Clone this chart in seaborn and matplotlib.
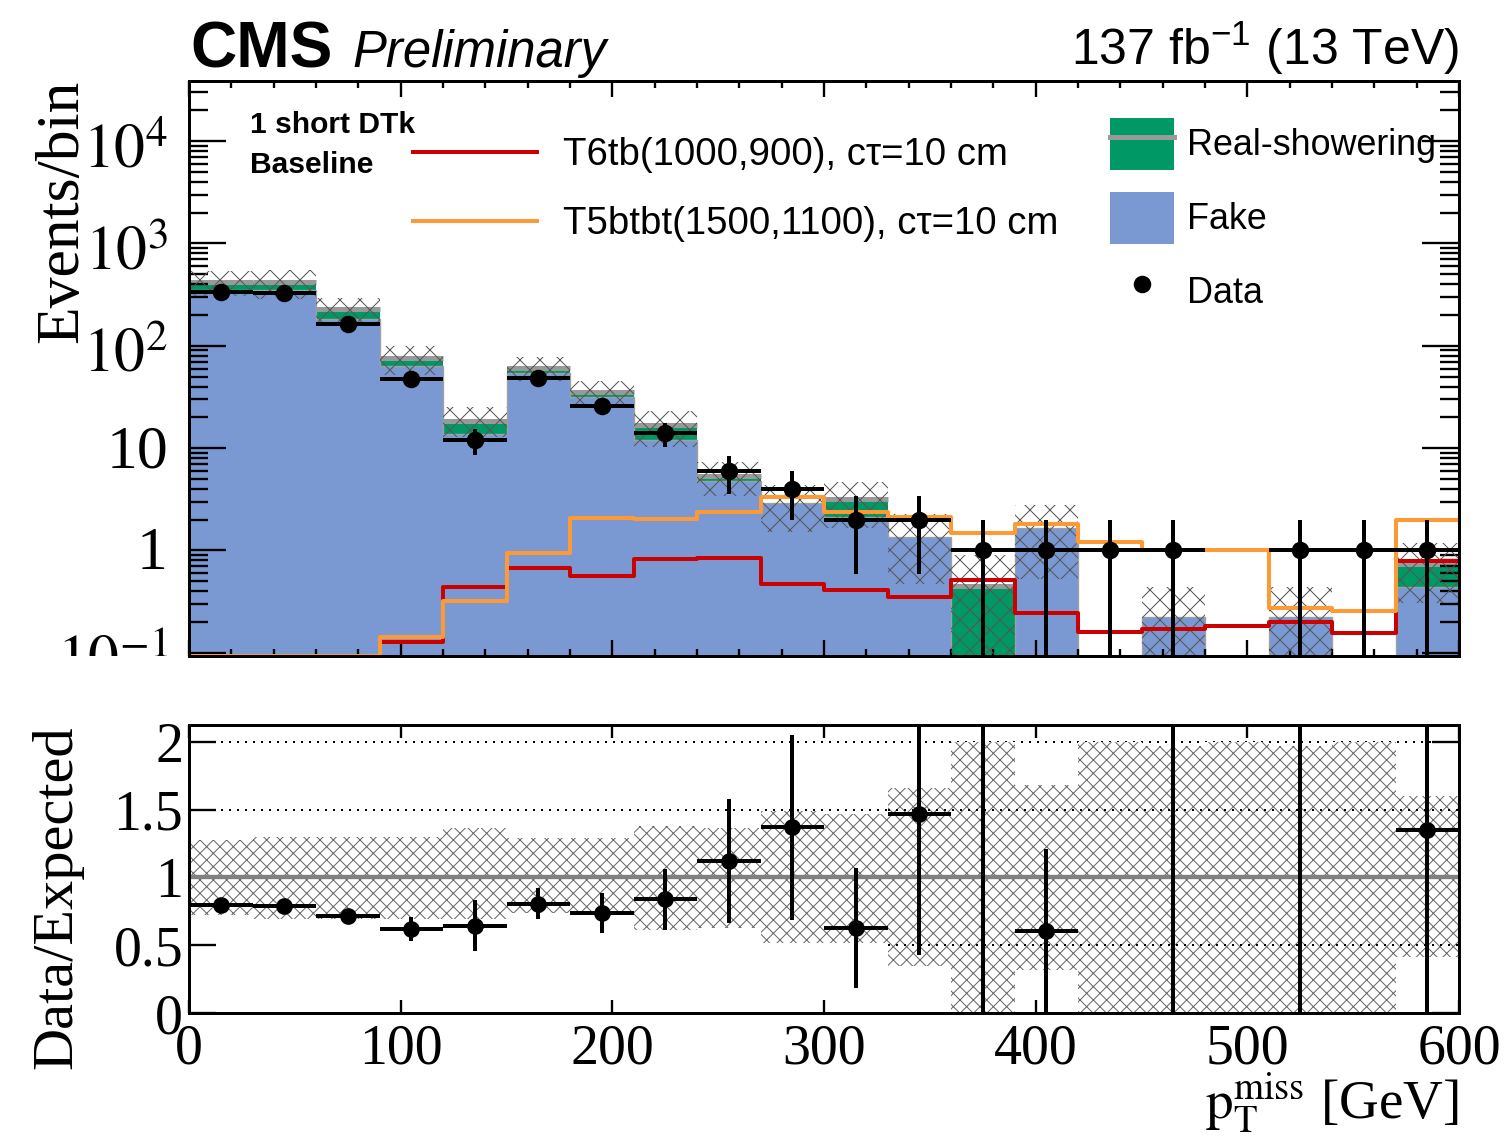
import numpy as np
import pandas as pd
import matplotlib
matplotlib.use("Agg")
import matplotlib.pyplot as plt
import seaborn as sns
from matplotlib.lines import Line2D
from matplotlib.patches import Patch
from matplotlib.legend_handler import HandlerTuple
from matplotlib.transforms import Bbox, TransformedBbox, blended_transform_factory, ScaledTranslation
from matplotlib.ticker import FixedLocator, NullFormatter, MultipleLocator, LogLocator, FixedFormatter
from matplotlib.font_manager import FontProperties

# ---------------- data ----------------
bin_edges = [0, 30, 60, 90, 120, 150, 180, 210, 240, 270, 300,
             330, 360, 390, 420, 450, 480, 510, 540, 570, 600]
data_counts = [335, 330, 162, 47, 12, 49, 26, 14, 6, 4,
               2, 2, 1, 1, 1, 1, 0, 1, 1, 1]
fake_bkg = [350, 348, 181, 63, 13.9, 53.7, 31.3, 12.0, 4.75, 2.92,
            2.13, 1.36, 0, 1.65, 0, 0.224, 0, 0.224, 0, 0.44]
real_bkg = [69, 71, 46, 13, 4.7, 7.0, 3.9, 4.7, 0.6, 0,
            1.06, 0, 0.45, 0, 0, 0, 0, 0, 0, 0.30]
sig_t6tb = [0, 0, 0, 0.128, 0.435, 0.667, 0.565, 0.83, 0.85, 0.465,
            0.41, 0.352, 0.52, 0.245, 0.158, 0.169, 0.183, 0.20, 0.155, 0.786]
sig_t5btbt = [0, 0, 0, 0.143, 0.32, 0.935, 2.06, 2.03, 2.38, 3.3,
              2.38, 2.13, 1.47, 1.8, 1.2, 1.02, 1.0, 0.275, 0.257, 1.98]
# relative uncertainty band on the expectation (ratio panel)
unc_hi = [1.28, 1.30, 1.30, 1.30, 1.365, 1.29, 1.29, 1.38, 1.365, 1.49,
          1.47, 1.66, 2.0, 1.685, 2.0, 1.97, 2.0, 1.97, 2.0, 1.60]
unc_lo = [0.725, 0.69, 0.69, 0.69, 0.69, 0.74, 0.725, 0.615, 0.63, 0.517,
          0.52, 0.345, 0.0, 0.32, 0.0, 0.0, 0.0, 0.0, 0.0, 0.41]
y_major = [0.1, 1, 10, 100, 1000, 10000]
y_major_labels = [r"$10^{-1}$", "1", "10", r"$10^{2}$", r"$10^{3}$", r"$10^{4}$"]
r_ticks = [0, 0.5, 1, 1.5, 2]
r_tick_labels = ["0", "0.5", "1", "1.5", "2"]
x_ticks = [0, 100, 200, 300, 400, 500, 600]

label_sig1 = "T6tb(1000,900), cτ=10 cm"
label_sig2 = "T5btbt(1500,1100), cτ=10 cm"

# ---------------- style ----------------
BLUE = "#7a99d2"
GREEN = "#009966"
RED = "#cc0000"
ORANGE = "#ff9933"
GRAY = "#999999"
SANS = ["Liberation Sans", "DejaVu Sans"]

plt.rcParams["font.family"] = ["Liberation Serif", "DejaVu Serif"]
plt.rcParams["mathtext.fontset"] = "custom"
plt.rcParams["mathtext.rm"] = "Liberation Sans"
plt.rcParams["mathtext.it"] = "Liberation Sans:italic"
plt.rcParams["mathtext.bf"] = "Liberation Sans:bold"
plt.rcParams["hatch.linewidth"] = 0.6
plt.rcParams["axes.linewidth"] = 1.8
plt.rcParams["axes.edgecolor"] = "black"

W, H, DPI = 1507, 1141, 120
fig = plt.figure(figsize=(W / DPI, H / DPI), dpi=DPI)


def fx(px):
    return px / W


def fy(py):
    return 1 - py / H


ax = fig.add_axes([fx(189), fy(656), fx(1459) - fx(189), fy(80.7) - fy(656)])
rax = fig.add_axes([fx(189), fy(1013), fx(1459) - fx(189), fy(725) - fy(1013)])

edges = np.array(bin_edges, dtype=float)
centers = 0.5 * (edges[:-1] + edges[1:])
half_w = 0.5 * (edges[1:] - edges[:-1])
fake = np.array(fake_bkg, dtype=float)
real = np.array(real_bkg, dtype=float)
total = fake + real
dat = np.array(data_counts, dtype=float)
hi = np.array(unc_hi)
lo = np.array(unc_lo)
Y_MIN, Y_MAX = 0.093, 3.9e4

df = pd.DataFrame({
    "pt": centers,
    "total": total,
    "fake": fake,
    "t6tb": np.maximum(np.array(sig_t6tb), Y_MIN),
    "t5btbt": np.maximum(np.array(sig_t5btbt), Y_MIN),
})
bins_list = list(bin_edges)

# ---------------- upper panel ----------------
sns.histplot(data=df, x="pt", weights="total", bins=bins_list, element="step", fill=True,
             color=GREEN, alpha=1, linewidth=0, ax=ax, zorder=1)
sns.histplot(data=df, x="pt", weights="fake", bins=bins_list, element="step", fill=True,
             color=BLUE, alpha=1, linewidth=0.8, edgecolor="#a0a0a0", ax=ax, zorder=1.1)
m_real = real > 0
ax.hlines(total[m_real], edges[:-1][m_real], edges[1:][m_real],
          colors=GRAY, linewidth=3, zorder=1.5)

m_tot = total > 0
band_top = total * hi
band_bot = np.maximum(total * lo, Y_MIN * 0.5)
ax.bar(centers[m_tot], (band_top - band_bot)[m_tot], bottom=band_bot[m_tot],
       width=2 * half_w[m_tot], fill=False, hatch="xx", edgecolor="#555555",
       linewidth=0, zorder=2)

sns.histplot(data=df, x="pt", weights="t6tb", bins=bins_list,
             element="step", fill=False, color=RED, linewidth=2.4, ax=ax, zorder=3)
sns.histplot(data=df, x="pt", weights="t5btbt", bins=bins_list,
             element="step", fill=False, color=ORANGE, linewidth=2.4, ax=ax, zorder=3.1)

m_dat = dat > 0
ax.errorbar(centers[m_dat], dat[m_dat], xerr=half_w[m_dat], yerr=np.sqrt(dat[m_dat]),
            fmt="o", color="black", ms=9.5, elinewidth=2.4, capsize=0, zorder=4)

ax.set_yscale("log")
ax.set_xlim(0, 600)
ax.set_ylim(Y_MIN, Y_MAX)
ax.set_xlabel("")
ax.set_ylabel("")
ax.yaxis.set_major_locator(FixedLocator(y_major))
ax.yaxis.set_minor_locator(LogLocator(base=10, subs=np.arange(2, 10), numticks=50))
ax.yaxis.set_major_formatter(NullFormatter())
ax.yaxis.set_minor_formatter(NullFormatter())
ax.xaxis.set_major_locator(FixedLocator(x_ticks))
ax.xaxis.set_minor_locator(MultipleLocator(20))
ax.tick_params(axis="both", which="both", direction="in", top=True, right=True,
               labelbottom=False, labelleft=False, width=1.4, color="black")
ax.tick_params(axis="x", which="major", length=9.6)
ax.tick_params(axis="x", which="minor", length=4.2)
ax.tick_params(axis="y", which="major", length=22)
ax.tick_params(axis="y", which="minor", length=11.4)
for s in ax.spines.values():
    s.set_linewidth(1.8)
    s.set_zorder(5)

# upper y tick labels (the lowest one is cut by the pad edge, as in the reference)
ylab_tr = blended_transform_factory(fig.transFigure, ax.transData)
clip = TransformedBbox(Bbox([[0, fy(656)], [1, 1]]), fig.transFigure)
for v, s in zip(y_major, y_major_labels):
    drop = 26 if s.startswith("$") else 19
    tr = ylab_tr + ScaledTranslation(0, -drop / DPI, fig.dpi_scale_trans)
    t = fig.text(fx(168), v, s, transform=tr, ha="right", va="baseline",
                 fontsize=37, math_fontfamily="stix")
    t.set_clip_box(clip)
    t.set_clip_on(True)

# legends
leg1 = ax.legend(handles=[Line2D([], [], color=RED, lw=2.4),
                          Line2D([], [], color=ORANGE, lw=2.4)],
                 labels=[label_sig1, label_sig2],
                 loc="upper left", bbox_to_anchor=(fx(413), fy(137)),
                 bbox_transform=fig.transFigure, frameon=False,
                 prop=FontProperties(family=SANS, size=23),
                 handlelength=3.23, handletextpad=0.68, labelspacing=0.86,
                 borderpad=0, borderaxespad=0)
ax.add_artist(leg1)
leg2 = ax.legend(handles=[(Patch(facecolor=GREEN, edgecolor="none"),
                           Line2D([], [], color=GRAY, lw=3)),
                          Patch(facecolor=BLUE, edgecolor="none"),
                          Line2D([], [], color="black", marker="o", ls="none", ms=9.5)],
                 labels=["Real-showering", "Fake", "Data"],
                 handler_map={tuple: HandlerTuple(ndivide=1, pad=0)},
                 loc="upper left", bbox_to_anchor=(fx(1110), fy(118)),
                 bbox_transform=fig.transFigure, frameon=False,
                 prop=FontProperties(family=SANS, size=21.5),
                 handlelength=1.79, handleheight=1.855, handletextpad=0.36,
                 labelspacing=0.61, borderpad=0, borderaxespad=0)

fig.text(fx(250), fy(133), "1 short DTk", family=SANS, weight="bold", fontsize=18)
fig.text(fx(250), fy(173), "Baseline", family=SANS, weight="bold", fontsize=18)

# ---------------- ratio panel ----------------
rax.hlines([2.0], 0, 600, colors="black", linestyles=(0, (1, 3)), linewidth=1.2, zorder=1)
rax.hlines([1.5], 0, 330, colors="black", linestyles=(0, (1, 3)), linewidth=1.2, zorder=1)
rax.hlines([1.5, 0.5], 330, 600, colors="black", linestyles=(0, (1, 3)), linewidth=1.2, zorder=3)
rax.bar(centers, hi - lo, bottom=lo, width=2 * half_w, facecolor="white",
        edgecolor="#666666", hatch="xxx", linewidth=0, zorder=2)
rax.axhline(1.0, color="#808080", linewidth=2.6, zorder=3.2)

valid = (total > 0) & (dat > 0)
ratio = dat[valid] / total[valid]
rerr = np.sqrt(dat[valid]) / total[valid]
rax.errorbar(centers[valid], ratio, xerr=half_w[valid], yerr=rerr, fmt="o",
             color="black", ms=9, elinewidth=2.4, capsize=0, zorder=4)

rax.set_xlim(0, 600)
rax.set_ylim(0, 2.125)
rax.xaxis.set_major_locator(FixedLocator(x_ticks))
rax.yaxis.set_major_locator(FixedLocator(r_ticks))
rax.yaxis.set_major_formatter(FixedFormatter(r_tick_labels))
rax.tick_params(axis="both", which="major", direction="in", top=True, right=True,
                width=1.4, labelsize=33.5, color="black")
rax.tick_params(axis="x", length=7.8, pad=6.5)
rax.tick_params(axis="y", length=16, pad=3.6)
for s in rax.spines.values():
    s.set_linewidth(1.8)
    s.set_zorder(5)

# ---------------- texts ----------------
fig.text(fx(62), fy(80), "Events/bin", rotation=90, ha="center", va="top", fontsize=37)
fig.text(fx(57), fy(725), "Data/Expected", rotation=90, ha="center", va="top", fontsize=35)
fig.text(fx(1459), fy(1118), r"$\mathrm{p}_{\mathrm{T}}^{\mathrm{miss}}$ [GeV]",
         ha="right", va="baseline", fontsize=33, math_fontfamily="stix")
fig.text(fx(190), fy(67), "CMS", family=SANS, weight="bold", fontsize=38.5, va="baseline")
fig.text(fx(352), fy(67), "Preliminary", family=SANS, style="italic", fontsize=30.5,
         va="baseline")
fig.text(fx(1459), fy(65), r"137 fb$^{\mathregular{-1}}$ (13 TeV)", family=SANS,
         fontsize=30, ha="right", va="baseline")

fig.savefig("out.png", dpi=DPI)
